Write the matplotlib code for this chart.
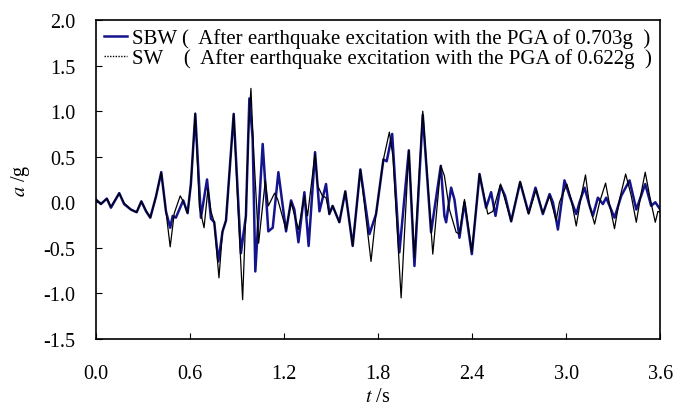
import matplotlib
matplotlib.use("Agg")
import matplotlib.pyplot as plt
from matplotlib.lines import Line2D

# SBW record (blue)
sbw_t = [0.000, 0.032, 0.070, 0.096, 0.149, 0.180, 0.223, 0.260, 0.290, 0.320,
         0.347, 0.383, 0.417, 0.447, 0.474, 0.490, 0.510, 0.557, 0.585, 0.606,
         0.634, 0.670, 0.695, 0.709, 0.734, 0.755, 0.781, 0.808, 0.830, 0.879,
         0.925, 0.957, 0.979, 1.000, 1.017, 1.064, 1.100, 1.128, 1.164, 1.213,
         1.245, 1.266, 1.292, 1.330, 1.357, 1.398, 1.426, 1.468, 1.489, 1.510,
         1.553, 1.591, 1.638, 1.687, 1.745, 1.787, 1.834, 1.855, 1.890, 1.936,
         1.996, 2.032, 2.085, 2.138, 2.200, 2.223, 2.234, 2.266, 2.287, 2.319,
         2.351, 2.398, 2.447, 2.489, 2.521, 2.549, 2.581, 2.610, 2.649, 2.706,
         2.760, 2.804, 2.851, 2.894, 2.915, 2.936, 2.947, 2.989, 3.021, 3.064,
         3.085, 3.117, 3.149, 3.170, 3.202, 3.234, 3.255, 3.308, 3.351, 3.404,
         3.447, 3.504, 3.542, 3.568, 3.600]
sbw_a = [0.03, -0.02, 0.04, -0.06, 0.10, -0.02, -0.08, -0.11, 0.01, -0.10,
         -0.17, 0.06, 0.33, -0.10, -0.28, -0.15, -0.17, 0.02, -0.12, 0.20,
         0.97, -0.17, 0.10, 0.25, -0.18, -0.22, -0.65, -0.32, -0.20, 0.97,
         -0.56, -0.15, 1.14, 0.70, -0.76, 0.64, -0.32, -0.28, 0.33, -0.32,
         0.02, -0.08, -0.44, 0.11, -0.48, 0.55, -0.10, 0.20, -0.13, -0.04,
         -0.22, 0.12, -0.48, 0.36, -0.35, -0.13, 0.47, 0.45, 0.75, -0.55,
         0.57, -0.70, 0.96, -0.33, 0.40, -0.15, -0.22, 0.16, 0.03, -0.39,
         0.00, -0.57, 0.31, -0.06, 0.11, -0.15, 0.18, 0.07, -0.21, 0.22,
         -0.12, 0.16, -0.13, 0.09, 0.00, -0.19, -0.30, 0.24, 0.07, -0.13,
         0.00, 0.16, -0.04, -0.15, 0.05, -0.02, 0.05, -0.17, 0.07, 0.24,
         -0.08, 0.20, -0.04, 0.00, -0.08]

# SW record (black)
sw_t = [0.000, 0.032, 0.070, 0.096, 0.149, 0.180, 0.223, 0.260, 0.290, 0.320,
        0.347, 0.383, 0.417, 0.447, 0.474, 0.500, 0.538, 0.560, 0.585, 0.606,
        0.634, 0.660, 0.690, 0.715, 0.734, 0.755, 0.785, 0.808, 0.830, 0.879,
        0.905, 0.936, 0.957, 0.975, 0.989, 1.005, 1.038, 1.081, 1.100, 1.140,
        1.160, 1.213, 1.245, 1.292, 1.330, 1.350, 1.398, 1.415, 1.445, 1.468,
        1.489, 1.510, 1.553, 1.591, 1.638, 1.687, 1.755, 1.787, 1.834, 1.872,
        1.895, 1.947, 1.996, 2.032, 2.085, 2.149, 2.200, 2.223, 2.255, 2.298,
        2.319, 2.351, 2.398, 2.447, 2.500, 2.532, 2.581, 2.649, 2.706, 2.760,
        2.808, 2.851, 2.894, 2.936, 2.957, 3.004, 3.032, 3.064, 3.096, 3.123,
        3.149, 3.181, 3.213, 3.251, 3.276, 3.308, 3.340, 3.379, 3.415, 3.447,
        3.479, 3.504, 3.532, 3.568, 3.585, 3.600]
sw_a = [0.03, -0.02, 0.04, -0.05, 0.10, -0.01, -0.08, -0.11, 0.01, -0.09,
        -0.17, 0.06, 0.33, -0.10, -0.49, -0.12, 0.07, 0.00, -0.12, 0.20,
        0.98, -0.05, -0.28, 0.15, -0.10, -0.22, -0.83, -0.32, -0.20, 0.97,
        0.00, -1.07, -0.10, 0.85, 1.25, 0.60, -0.45, 0.24, -0.04, 0.10,
        0.03, -0.30, 0.00, -0.30, 0.07, -0.15, 0.53, 0.18, 0.07, 0.05,
        -0.13, -0.04, -0.22, 0.12, -0.48, 0.36, -0.65, -0.13, 0.47, 0.77,
        0.50, -1.05, 0.57, -0.61, 1.00, -0.57, 0.40, 0.29, -0.08, -0.33,
        -0.35, 0.03, -0.55, 0.31, -0.13, -0.10, 0.20, -0.21, 0.23, -0.13,
        0.14, -0.12, 0.07, -0.20, 0.00, 0.20, 0.03, -0.26, 0.07, 0.30,
        -0.04, -0.24, 0.00, 0.21, -0.02, -0.29, 0.03, 0.31, 0.07, -0.22,
        0.11, 0.33, 0.07, -0.22, -0.10, -0.11]

x_ticks = [0.0, 0.6, 1.2, 1.8, 2.4, 3.0, 3.6]
y_ticks = [-1.5, -1.0, -0.5, 0.0, 0.5, 1.0, 1.5, 2.0]

label_sbw = "SBW (  After earthquake excitation with the PGA of 0.703g  )"
label_sw = "SW    (  After earthquake excitation with the PGA of 0.622g  )"

blue = "#14148c"

plt.rcParams["font.family"] = ["Liberation Serif", "DejaVu Serif"]
plt.rcParams["mathtext.fontset"] = "stix"

fig = plt.figure(figsize=(6.8, 4.06), dpi=100)
ax = fig.add_axes([0.141, 0.163, 0.830, 0.785])

ax.plot(sbw_t, sbw_a, color=blue, lw=1.8, zorder=2)
ax.plot(sw_t, sw_a, color="black", lw=0.9, zorder=3)

ax.set_xlim(0, 3.6)
ax.set_ylim(-1.5, 2.0)
ax.set_xticks(x_ticks)
ax.set_yticks(y_ticks)
ax.set_xticklabels([f"{v:.1f}" for v in x_ticks])
ax.set_yticklabels([f"{v:.1f}" for v in y_ticks])
ax.tick_params(direction="in", length=4, width=0.8, labelsize=14.5,
               top=False, right=False)
ax.tick_params(axis="x", pad=18)
ax.tick_params(axis="y", pad=15)
for s in ax.spines.values():
    s.set_linewidth(1.2)

ax.set_xlabel("$t$ /s", fontsize=14.5, labelpad=3)
ax.set_ylabel("$a$ /g", fontsize=14.5, labelpad=8)

handles = [Line2D([], [], color=blue, lw=1.8),
           Line2D([], [], color="black", lw=1.0, linestyle=(0, (1, 1)))]
ax.legend(handles, [label_sbw, label_sw], loc="upper left",
          bbox_to_anchor=(0.0, 1.0), frameon=False, fontsize=15,
          handlelength=1.1, handletextpad=0.25, labelspacing=0.0,
          borderaxespad=0.1, borderpad=0.3)

fig.savefig("out.png", dpi=100)
